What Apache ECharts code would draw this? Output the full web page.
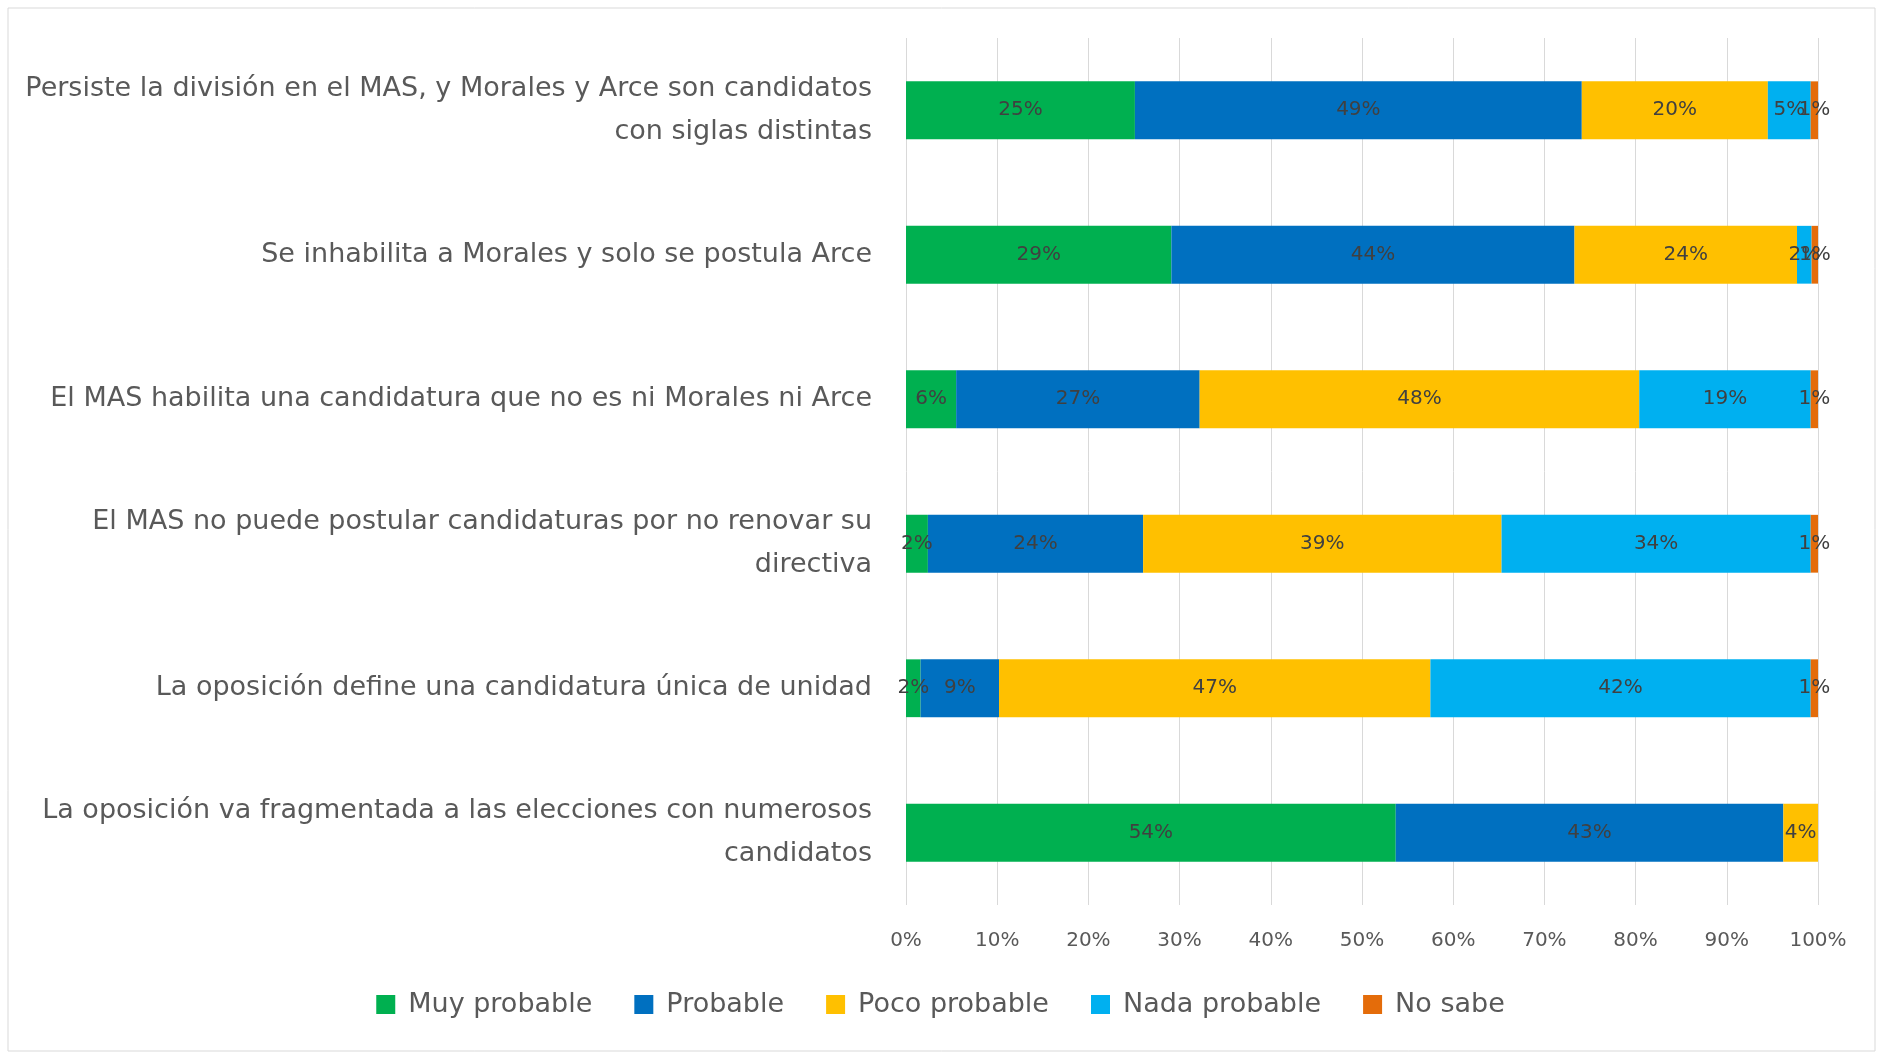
<!DOCTYPE html>
<html>
<head>
<meta charset="utf-8">
<script src="https://cdn.jsdelivr.net/npm/echarts@6/dist/echarts.min.js"></script>
<style>
  html, body { margin: 0; padding: 0; background: #fff; }
  #chart { width: 1881px; height: 1052px; }
</style>
</head>
<body>
<div id="chart"></div>
<script>
// categories, top to bottom
const categories = [
  'Persiste la división en el MAS, y Morales y Arce son candidatos\ncon siglas distintas',
  'Se inhabilita a Morales y solo se postula Arce',
  'El MAS habilita una candidatura que no es ni Morales ni Arce',
  'El MAS no puede postular candidaturas por no renovar su\ndirectiva',
  'La oposición define una candidatura única de unidad',
  'La oposición va fragmentada a las elecciones con numerosos\ncandidatos'
]

const seriesNames = ['Muy probable', 'Probable', 'Poco probable', 'Nada probable', 'No sabe']
const colors = ['#00B050', '#0070C0', '#FFC000', '#00B0F0', '#E46C0A']

// percentages per series, same order as categories
const muyProbable = [25.1, 29.1, 5.5, 2.4, 1.6, 53.7]
const probable = [49.0, 44.2, 26.7, 23.6, 8.6, 42.5]
const pocoProbable = [20.4, 24.4, 48.2, 39.3, 47.3, 3.8]
const nadaProbable = [4.7, 1.6, 18.8, 33.9, 41.7, 0]
const noSabe = [0.8, 0.7, 0.8, 0.8, 0.8, 0]

const xTicks = { min: 0, max: 100, interval: 10 }

const values = [muyProbable, probable, pocoProbable, nadaProbable, noSabe]
const font = 'DejaVu Sans'

const chart = echarts.init(document.getElementById('chart'))

chart.setOption({
  animation: false,
  graphic: [{
    type: 'rect',
    shape: { x: 8, y: 8, width: 1867, height: 1043 },
    style: { fill: 'none', stroke: '#D9D9D9', lineWidth: 1 },
    silent: true
  }],
  legend: {
    bottom: 29,
    left: 'center',
    itemWidth: 19,
    itemHeight: 19,
    itemGap: 42,
    icon: 'rect',
    textStyle: { fontFamily: font, fontSize: 27, color: '#595959', padding: [0, 0, 0, 8] },
    data: seriesNames
  },
  grid: { left: 906, right: 63, top: 38, bottom: 147 },
  xAxis: {
    type: 'value',
    min: xTicks.min,
    max: xTicks.max,
    interval: xTicks.interval,
    axisLine: { show: false },
    axisTick: { show: false },
    splitLine: { lineStyle: { color: '#D9D9D9', width: 1 } },
    axisLabel: {
      formatter: '{value}%',
      fontFamily: font,
      fontSize: 20,
      color: '#595959',
      margin: 26
    }
  },
  yAxis: {
    type: 'category',
    inverse: true,
    data: categories,
    axisLine: { show: false },
    axisTick: { show: false },
    axisLabel: {
      fontFamily: font,
      fontSize: 27,
      lineHeight: 43,
      color: '#595959',
      align: 'right',
      margin: 34
    }
  },
  series: seriesNames.map((name, i) => ({
    name,
    type: 'bar',
    stack: 'total',
    barWidth: '40%',
    itemStyle: { color: colors[i] },
    label: {
      show: true,
      position: 'inside',
      fontFamily: font,
      fontSize: 20,
      color: '#404040',
      formatter: p => p.value > 0 ? Math.round(p.value) + '%' : ''
    },
    data: values[i]
  }))
})
</script>
</body>
</html>
